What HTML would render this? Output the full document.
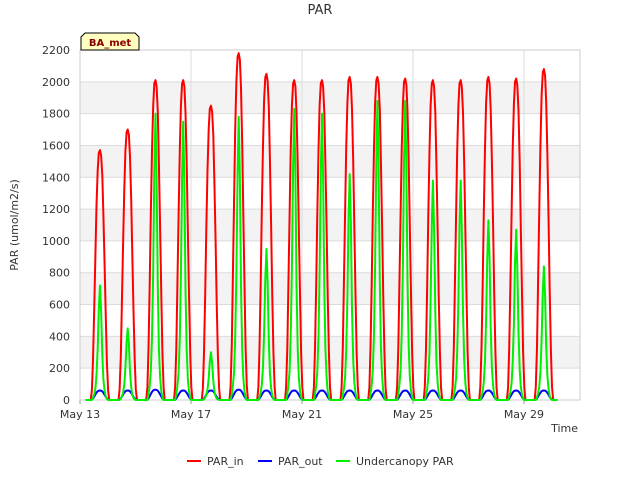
<!DOCTYPE html>
<html><head><meta charset="utf-8"><style>
body{margin:0;background:#fff;font-family:"DejaVu Sans",sans-serif}
</style></head><body>
<svg id="c" width="640" height="480" xmlns="http://www.w3.org/2000/svg" font-family="DejaVu Sans, sans-serif"></svg>
<script>
const yTicks=[0,200,400,600,800,1000,1200,1400,1600,1800,2000,2200];
const xTickLabels=["May 13","May 17","May 21","May 25","May 29"];
const xTickDays=[0,4,8,12,16];
const parInPeaks=[1570,1700,2010,2010,1850,2180,2050,2010,2010,2030,2030,2020,2010,2010,2030,2020,2080];
const parOutPeaks=[60,60,65,60,60,65,60,60,60,60,60,60,60,60,60,60,60];
const underPeaks=[720,450,1800,1750,300,1780,950,1830,1800,1420,1880,1880,1380,1380,1130,1070,840];
const sunProfile=[0,0.04,0.16,0.36,0.58,0.78,0.92,0.99,1,0.98,0.9,0.74,0.54,0.33,0.15,0.04,0];
const underProfile=[0,0,0.02,0.05,0.1,0.22,0.45,0.8,1,0.78,0.4,0.18,0.08,0.03,0.01,0,0];
const peakFrac=0.72;

const svg=document.getElementById('c');const NS="http://www.w3.org/2000/svg";
const L=80,R=580,T=50,B=400;const dayW=(R-L)/18.02;
const X=d=>L+d*dayW;const Y=v=>B-v/2200*(B-T);
function el(t,a,p){const e=document.createElementNS(NS,t);for(const k in a)e.setAttribute(k,a[k]);(p||svg).appendChild(e);return e;}
const bg=el('g',{});


el('rect',{x:L,y:T,width:R-L,height:B-T,fill:'#fff'},bg);
for(let i=1;i<yTicks.length-1;i+=2){el('rect',{x:L,y:Y(yTicks[i+1]),width:R-L,height:Y(yTicks[i])-Y(yTicks[i+1]),fill:'#f3f3f3'},bg);}
yTicks.forEach(v=>{el('line',{x1:L,x2:R,y1:Y(v),y2:Y(v),stroke:'#dcdcdc','stroke-width':1},bg);
const t=el('text',{x:L-10,y:Y(v)+4,'text-anchor':'end','font-size':11,fill:'#333'});t.textContent=v;

});
xTickDays.forEach((d,i)=>{el('line',{x1:X(d),x2:X(d),y1:T,y2:B,stroke:'#dcdcdc'},bg);
el('line',{x1:X(d),x2:X(d),y1:B,y2:B+4,stroke:'#999'});
const t=el('text',{x:X(d),y:B+18,'text-anchor':'middle','font-size':11,fill:'#333'});t.textContent=xTickLabels[i];

});
el('rect',{x:L,y:T,width:R-L,height:B-T,fill:'none',stroke:'#ccc'});
function series(peaks,prof,color,name,w){let pts=[[X(0.2),B]];
const half=(prof.length-1)/2;
peaks.forEach((p,i)=>{prof.forEach((f,j)=>{const d=i+peakFrac+(j-half)/24;pts.push([X(d),Y(p*f)]);});});
pts.push([X(17.2),B]);
const pl=el('polyline',{points:pts.map(q=>q[0].toFixed(1)+','+q[1].toFixed(1)).join(' '),fill:'none',stroke:color,'stroke-width':w,'stroke-linejoin':'round'});

}
series(parInPeaks,sunProfile,'#ff0000','par-in-line',2);
series(parOutPeaks,sunProfile,'#0000ff','par-out-line',2);
series(underPeaks,underProfile,'#00ee00','undercanopy-par-line',2);
let t=el('text',{x:320,y:14,'text-anchor':'middle','font-size':13,fill:'#333'});t.textContent='PAR';

t=el('text',{x:0,y:0,'text-anchor':'middle','font-size':11,fill:'#333',transform:'translate(18,225) rotate(-90)'});t.textContent='PAR (umol/m2/s)';

t=el('text',{x:578,y:432,'text-anchor':'end','font-size':11,fill:'#333'});t.textContent='Time';

const bx=el('g',{});
el('path',{d:'M81,50 L81,37 L85,33 L135,33 L139,37 L139,50 Z',fill:'#ffffc0',stroke:'#000'},bx);
t=el('text',{x:110,y:46,'text-anchor':'middle','font-size':10,'font-weight':'bold',fill:'#8b0000'},bx);t.textContent='BA_met';
const leg=[['PAR_in','#ff0000',187],['PAR_out','#0000ff',258],['Undercanopy PAR','#00ee00',336]];
leg.forEach(l=>{const g=el('g',{});
el('line',{x1:l[2],x2:l[2]+14,y1:461,y2:461,stroke:l[1],'stroke-width':2},g);
const tx=el('text',{x:l[2]+20,y:465,'font-size':11,fill:'#333'},g);tx.textContent=l[0];});
</script>
</body></html>
